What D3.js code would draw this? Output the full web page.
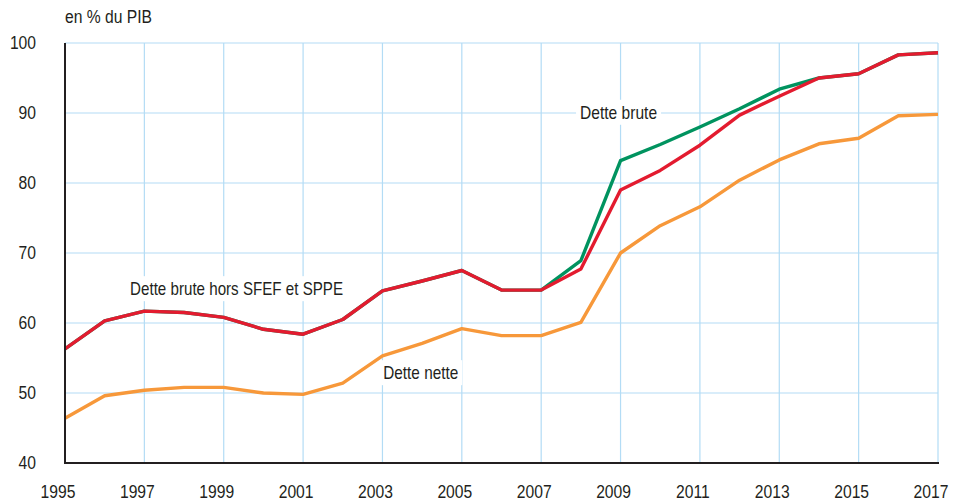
<!DOCTYPE html>
<html>
<head>
<meta charset="utf-8">
<script src="https://cdn.jsdelivr.net/npm/d3@7"></script>
<style>
  body { margin: 0; background: #fff; }
  svg text { font-family: "Liberation Sans", Arial, sans-serif; fill: #231f20; }
</style>
</head>
<body>
<div id="chart"></div>
<script>
(function () {

    // debt as % of GDP, 1995-2017

    var years = d3.range(1995, 2018);

    // Dette brute
    var detteBrute = [56.3, 60.3, 61.7, 61.5, 60.8, 59.1, 58.4, 60.5, 64.6, 66.0, 67.5, 64.7, 64.7,
        68.9, 83.2, 85.5, 88.0, 90.6, 93.4, 95.0, 95.6, 98.3, 98.6];

    // Dette brute hors SFEF et SPPE
    var detteHors = [56.3, 60.3, 61.7, 61.5, 60.8, 59.1, 58.4, 60.5, 64.6, 66.0, 67.5, 64.7, 64.7,
        67.7, 79.0, 81.8, 85.4, 89.7, 92.4, 95.0, 95.6, 98.3, 98.6];

    // Dette nette
    var detteNette = [46.4, 49.6, 50.4, 50.8, 50.8, 50.0, 49.8, 51.4, 55.3, 57.1, 59.2, 58.2, 58.2,
        60.1, 70.0, 73.9, 76.6, 80.4, 83.3, 85.6, 86.4, 89.6, 89.8];

    var yTicks = [40, 50, 60, 70, 80, 90, 100];
    var xTicks = [1995, 1997, 1999, 2001, 2003, 2005, 2007, 2009, 2011, 2013, 2015, 2017];

    var width = 954, height = 503;
    var margin = { top: 43, right: 16, bottom: 40, left: 65 };

    // condensed look: squeeze the text horizontally
    var squeeze = 0.87;

    var svg = d3.select('#chart')
        .append('svg')
        .attr('width', width)
        .attr('height', height);

    var x = d3.scaleLinear()
        .domain([1995, 2017])
        .range([margin.left, width - margin.right]);

    var y = d3.scaleLinear()
        .domain([40, 100])
        .range([height - margin.bottom, margin.top]);

    var grid = svg.append('g').attr('class', 'grid');

    // horizontal gridlines
    grid.selectAll('.hgrid')
        .data(yTicks.filter(d => d > 40))
        .enter()
        .append('line')
        .attr('x1', x(1995))
        .attr('x2', x(2017))
        .attr('y1', d => y(d))
        .attr('y2', d => y(d))
        .attr('stroke', '#b3dcf5')
        .attr('stroke-width', 1.2);

    // vertical gridlines every two years
    grid.selectAll('.vgrid')
        .data(xTicks.filter(d => d > 1995))
        .enter()
        .append('line')
        .attr('x1', d => x(d))
        .attr('x2', d => x(d))
        .attr('y1', y(100))
        .attr('y2', y(40))
        .attr('stroke', '#b3dcf5')
        .attr('stroke-width', 1.2);

    // series labels, with white box behind
    var labels = [
        { text: 'Dette brute hors SFEF et SPPE', year: 1996.64, value: 64.9, len: 213 },
        { text: 'Dette brute', year: 2007.98, value: 90.1, len: 77 },
        { text: 'Dette nette', year: 2003.02, value: 52.9, len: 75 }
    ];

    var lab = svg.append('g').attr('class', 'labels');

    labels.forEach(function (l) {
        var t = lab.append('text')
            .attr('x', x(l.year))
            .attr('y', y(l.value))
            .attr('dy', '0.35em')
            .attr('textLength', l.len)
            .attr('lengthAdjust', 'spacingAndGlyphs')
            .style('font-size', '18.5px')
            .text(l.text);
        var b = t.node().getBBox();
        lab.insert('rect', 'text')
            .attr('x', b.x - 4)
            .attr('y', b.y - 2)
            .attr('width', b.width + 8)
            .attr('height', b.height + 4)
            .attr('fill', '#fff');
    });

    var line = d3.line()
        .x((d, i) => x(years[i]))
        .y(d => y(d));

    var series = [
        { values: detteNette, colour: '#f7983a' },
        { values: detteBrute, colour: '#00935f' },
        { values: detteHors, colour: '#e31b2f' }
    ];

    svg.selectAll('.serie')
        .data(series)
        .enter()
        .append('path')
        .attr('class', 'serie')
        .attr('fill', 'none')
        .attr('stroke', d => d.colour)
        .attr('stroke-width', 3.4)
        .attr('stroke-linejoin', 'round')
        .attr('d', d => line(d.values));

    // axes lines
    svg.append('line')
        .attr('x1', x(1995))
        .attr('x2', x(1995))
        .attr('y1', y(100))
        .attr('y2', y(40))
        .attr('stroke', '#231f20')
        .attr('stroke-width', 2);

    svg.append('line')
        .attr('x1', x(1995) - 1)
        .attr('x2', x(2017) + 1)
        .attr('y1', y(40))
        .attr('y2', y(40))
        .attr('stroke', '#231f20')
        .attr('stroke-width', 2);

    // tick labels
    svg.selectAll('.ylab')
        .data(yTicks)
        .enter()
        .append('text')
        .attr('class', 'ylab')
        .attr('transform', d => 'translate(36,' + y(d) + ') scale(' + squeeze + ',1)')
        .attr('dy', '0.35em')
        .attr('text-anchor', 'end')
        .style('font-size', '18px')
        .text(d => d);

    svg.selectAll('.xlab')
        .data(xTicks)
        .enter()
        .append('text')
        .attr('class', 'xlab')
        .attr('transform', d => 'translate(' + (x(d) - 7) + ',' + (y(40) + 29) + ') scale(' + squeeze + ',1)')
        .attr('dy', '0.35em')
        .attr('text-anchor', 'middle')
        .style('font-size', '18px')
        .text(d => d);

    svg.append('text')
        .attr('transform', 'translate(65,17) scale(' + squeeze + ',1)')
        .attr('dy', '0.35em')
        .style('font-size', '18px')
        .text('en % du PIB');

})()
</script>
</body>
</html>
